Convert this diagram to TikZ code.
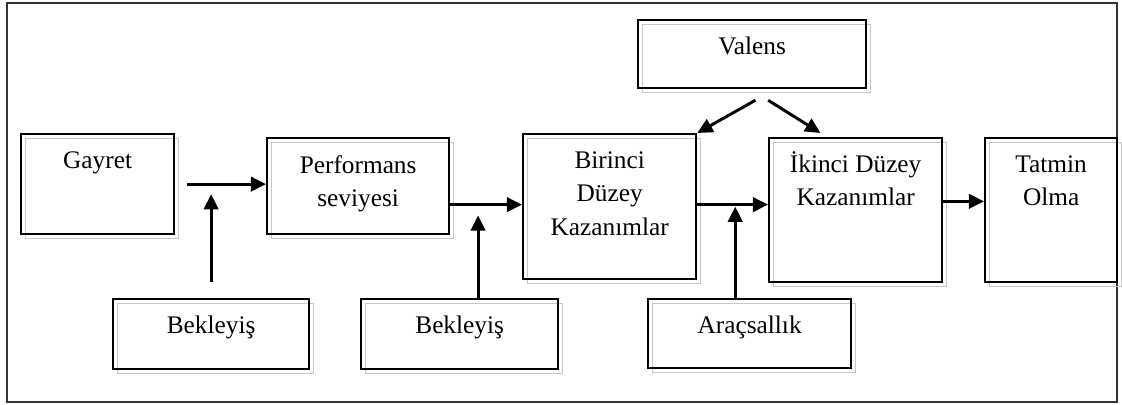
\documentclass[tikz,border=0pt]{standalone}
\usepackage{fontspec}
\setmainfont{Liberation Serif}
\usepackage{tikz}
\usetikzlibrary{arrows.meta}
\usetikzlibrary{shadows}
\tikzset{
box/.style={draw, line width=1.6pt, rectangle, inner sep=0pt, anchor=north west,
  copy shadow={shadow xshift=0.1cm, shadow yshift=-0.1cm, draw=gray!45, fill=none, line width=0.7pt}},
txt/.style={anchor=north, align=center, inner sep=0pt, yshift=-0.45cm, font=\fontsize{18}{24}\selectfont},
arr/.style={line width=2.1pt, -{Triangle[length=0.38cm, width=0.36cm]}}}

\begin{document}
\begin{tikzpicture}[x=0.025cm, y=-0.025cm]
    \useasboundingbox (0,0) rectangle (1122,405);
    \draw[line width=1.5pt, black!80] (7,3) rectangle (1117,402);

                \node[box, minimum width=3.825cm, minimum height=2.5cm, label={[txt]north:Gayret}] (G) at (20,133) {};
                \node[box, minimum width=4.55cm, minimum height=2.4cm, label={[txt]north:Performans\\seviyesi}] (P) at (266,137) {};
                \node[box, minimum width=4.325cm, minimum height=3.625cm, label={[txt]north:Birinci\\Düzey\\Kazanımlar}] (K1) at (522,133) {};
                \node[box, minimum width=4.325cm, minimum height=3.6cm, label={[txt, yshift=0.1cm]north:İkinci Düzey\\Kazanımlar}] (K2) at (768,137) {};
                \node[box, minimum width=3.3cm, minimum height=3.6cm, label={[txt]north:Tatmin\\Olma}] (T) at (984,137) {};
                \node[box, minimum width=5.7cm, minimum height=1.7cm, label={[txt]north:Valens}] (V) at (637,19) {};
                \node[box, minimum width=4.9cm, minimum height=1.75cm, label={[txt]north:Bekleyiş}] (B1) at (112,298) {};
                \node[box, minimum width=4.925cm, minimum height=1.75cm, label={[txt]north:Bekleyiş}] (B2) at (360,298) {};
                \node[box, minimum width=5.075cm, minimum height=1.725cm, label={[txt]north:Araçsallık}] (A) at (647,298) {};

                \draw[arr] ([xshift=0.3cm]G.east) -- (G.east -| P.west);
                \draw[arr] ([yshift=0.4cm]B1.north) -- ([yshift=-0.25cm]B1.north |- G.east);
                \draw[arr] ([yshift=0.05cm]P.east |- K1.west) -- ([yshift=0.05cm]K1.west);
                \draw[arr] ([xshift=0.46cm]B2.north) -- ([xshift=0.46cm, yshift=-0.22cm]B2.north |- K1.west);
                \draw[arr] ([yshift=0.05cm]K1.east) -- ([yshift=0.05cm]K1.east -| K2.west);
                \draw[arr] ([xshift=-0.36cm]A.north) -- ([xshift=-0.36cm]A.north |- K1.east);
                \draw[arr] ([yshift=0.22cm]K2.east) -- ([yshift=0.22cm]K2.east -| T.west);
                \draw[arr] ([xshift=0.08cm, yshift=-0.275cm]V.south) -- (K1.north east);
                \draw[arr] ([xshift=0.4cm, yshift=-0.275cm]V.south) -- ([xshift=-0.88cm, yshift=0.1cm]K2.north);

\end{tikzpicture}
\end{document}
